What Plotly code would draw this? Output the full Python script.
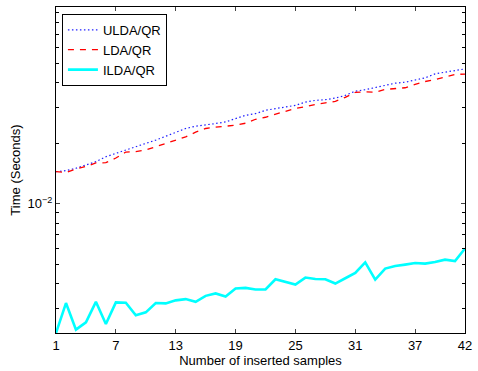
import plotly.graph_objects as go

samples = list(range(1, 43))

ulda_qr = [0.01445, 0.01462, 0.01502, 0.0156, 0.0162, 0.01715, 0.01782, 0.01866, 0.01922, 0.01998,
           0.02074, 0.02171, 0.0228, 0.0237, 0.02433, 0.02461, 0.02509, 0.02555, 0.02656, 0.02758,
           0.02812, 0.0292, 0.02977, 0.03032, 0.03091, 0.03209, 0.03272, 0.03298, 0.03359, 0.03464,
           0.03639, 0.03697, 0.03782, 0.03882, 0.03985, 0.04031, 0.04142, 0.04238, 0.04436, 0.04538,
           0.04607, 0.04697]

lda_qr = [0.01445, 0.01429, 0.0149, 0.01533, 0.01596, 0.01601, 0.01689, 0.01809, 0.0182, 0.01851,
          0.01922, 0.01998, 0.02074, 0.02154, 0.02272, 0.0237, 0.02406, 0.02433, 0.02461, 0.02518,
          0.02635, 0.02696, 0.0279, 0.02887, 0.02987, 0.03039, 0.03126, 0.0318, 0.03235, 0.03386,
          0.03585, 0.03605, 0.03597, 0.0371, 0.03752, 0.03782, 0.03927, 0.04063, 0.04157, 0.04277,
          0.04401, 0.04426]

ilda_qr = [0.00227, 0.0032, 0.00236, 0.002566, 0.003246, 0.002518, 0.003224, 0.003209, 0.00278, 0.002877,
           0.0032, 0.003188, 0.0033, 0.003349, 0.003246, 0.003476, 0.003573, 0.003452, 0.003782, 0.003808,
           0.003739, 0.003739, 0.004205, 0.004077, 0.003958, 0.004287, 0.004219, 0.004205, 0.004003, 0.004253,
           0.004519, 0.005105, 0.00419, 0.004751, 0.004894, 0.004973, 0.005065, 0.00503, 0.005123, 0.005265,
           0.005182, 0.005986]

x_ticks = [1, 7, 13, 19, 25, 31, 37, 42]
y_ticks = [0.01]
y_ticktext = ["10<sup>\u22122</sup>"]
y_minor = [0.003, 0.004, 0.005, 0.006, 0.007, 0.008, 0.009,
           0.02, 0.03, 0.04, 0.05, 0.06, 0.07, 0.08, 0.09]

fig = go.Figure()
fig.add_trace(go.Scatter(x=samples, y=ulda_qr, mode="lines", name="ULDA/QR",
                         line=dict(color="#2020ff", dash="1.5px,2.5px", width=1.2)))
fig.add_trace(go.Scatter(x=samples, y=lda_qr, mode="lines", name="LDA/QR",
                         line=dict(color="#ff0000", dash="6px,6px", width=1.3)))
fig.add_trace(go.Scatter(x=samples, y=ilda_qr, mode="lines", name="ILDA/QR",
                         line=dict(color="#00ffff", width=2.6)))

font = dict(family="Liberation Sans, Arial, sans-serif", size=13, color="black")

fig.update_layout(
    width=478, height=371,
    margin=dict(l=56, r=8, t=6, b=37),
    paper_bgcolor="white", plot_bgcolor="white",
    font=font,
    showlegend=True,
    legend=dict(x=0.0145, y=0.979, xanchor="left", yanchor="top",
                bgcolor="white", bordercolor="black", borderwidth=1,
                font=dict(family="Liberation Sans, Arial, sans-serif", size=13, color="black"),
                tracegroupgap=0, itemwidth=30),
    xaxis=dict(range=[1, 42], tickvals=x_ticks, ticks="inside", ticklen=4,
               showline=True, linecolor="black", linewidth=1, mirror="ticks",
               showgrid=False, zeroline=False,
               title=dict(text="Number of inserted samples", standoff=3, font=font)),
    yaxis=dict(type="log", range=[-2.644, -1.02], tickvals=y_ticks, ticktext=y_ticktext,
               ticks="inside", ticklen=4,
               minor=dict(tickvals=y_minor, ticks="inside", ticklen=3, tickcolor="black", showgrid=False),
               showline=True, linecolor="black", linewidth=1, mirror="ticks",
               showgrid=False, zeroline=False,
               title=dict(text="Time (Seconds)", standoff=4, font=font)),
)

fig.write_html("out.html")
